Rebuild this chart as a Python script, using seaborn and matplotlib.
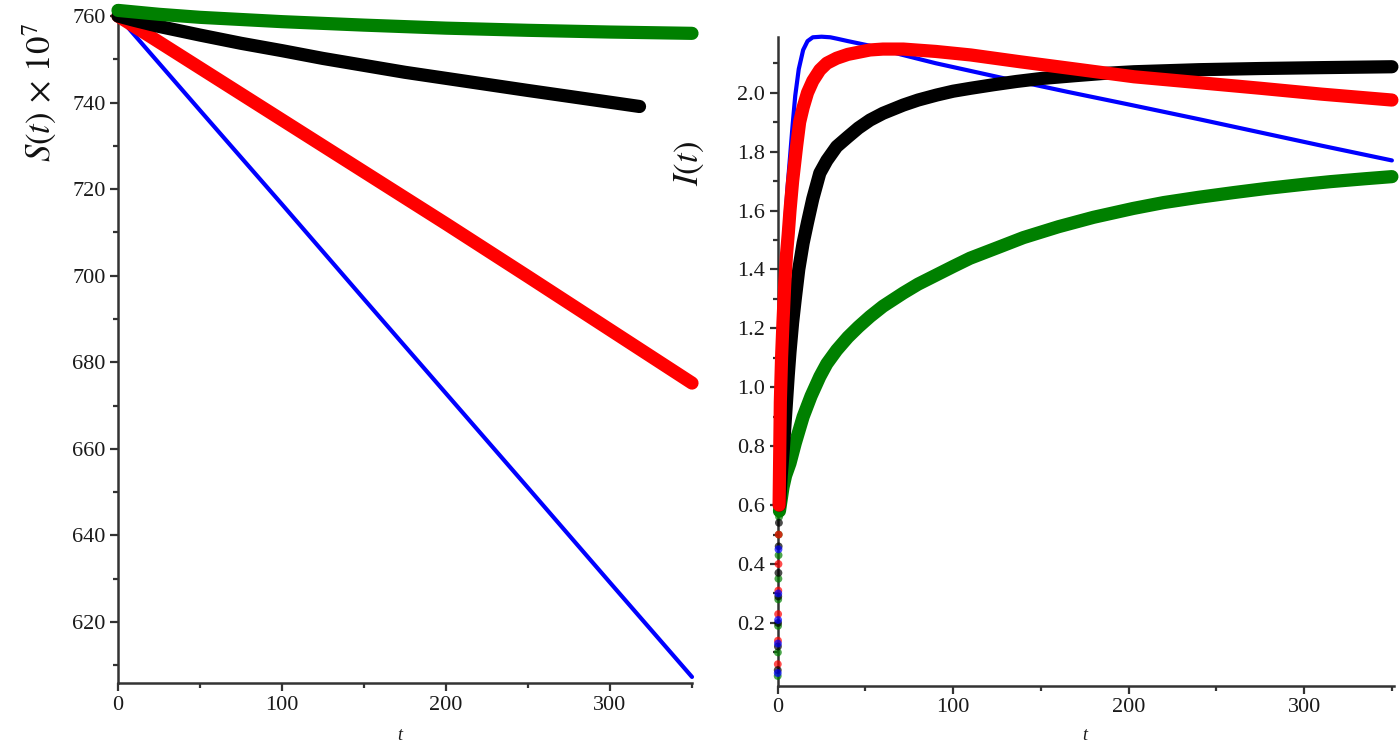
import numpy as np
import pandas as pd
import matplotlib
matplotlib.use("Agg")
import matplotlib.pyplot as plt
from matplotlib.ticker import FixedLocator
import seaborn as sns

# ---------------- data: left panel S(t) x 10^7 ----------------
t_S_blue = [0, 50, 100, 150, 200, 250, 300, 350]
S_blue = [760, 738.2, 716.5, 694.6, 672.8, 651.0, 629.1, 607.3]

t_S_red = [0, 50, 100, 150, 200, 250, 300, 350]
S_red = [760, 748.0, 736.0, 724.0, 712.0, 699.8, 687.5, 675.2]

t_S_black = [0, 10, 25, 50, 75, 100, 125, 150, 175, 200, 225, 250, 285, 318]
S_black = [760, 759.0, 757.6, 755.6, 753.7, 752.0, 750.2, 748.6, 747.0, 745.6, 744.2, 742.8, 740.9, 739.1]

t_S_green = [0, 25, 50, 100, 150, 200, 250, 300, 350]
S_green = [761.3, 760.4, 759.7, 758.7, 757.9, 757.2, 756.7, 756.3, 756.0]

# ---------------- data: right panel I(t) ----------------
t_I_blue = [0.6, 1.3, 2, 3, 4.2, 5.5, 7, 8.5, 10, 12, 14.5, 17, 20, 25, 30, 34, 40,
            52, 70, 90, 128, 165, 200, 240, 275, 310, 350]
I_blue = [0.60, 0.99, 1.22, 1.41, 1.55, 1.67, 1.78, 1.89, 1.99, 2.08, 2.145, 2.175, 2.188, 2.19, 2.188, 2.183, 2.175,
          2.16, 2.13, 2.10, 2.05, 2.003, 1.96, 1.91, 1.865, 1.82, 1.77]

t_I_red = [0.8, 1.5, 2.2, 3, 4, 5, 6, 7, 8.5, 10.8, 12.5, 14.5, 17, 20, 24, 28, 33.6, 40, 52.6, 60, 71.6,
           90, 110, 138, 170, 203, 240, 275, 310, 350]
I_red = [0.60, 0.95, 1.10, 1.22, 1.35, 1.45, 1.52, 1.60, 1.70, 1.82, 1.90, 1.95, 2.00, 2.04, 2.077, 2.10, 2.117, 2.13, 2.145, 2.148, 2.148,
         2.14, 2.128, 2.105, 2.08, 2.054, 2.034, 2.015, 1.995, 1.975]

t_I_black = [1.0, 2.0, 3.2, 4, 5, 6, 7, 8.5, 10, 12, 14.5, 17, 20, 24, 28, 33.6, 40, 46, 52.6, 60, 71.6, 80,
             90.6, 100, 110, 123, 136, 150, 170, 185, 203, 240, 275, 310, 350]
I_black = [0.60, 0.70, 0.79, 0.86, 0.95, 1.04, 1.12, 1.22, 1.30, 1.40, 1.49, 1.56, 1.64, 1.727, 1.77, 1.817, 1.85, 1.88, 1.907, 1.93, 1.958, 1.975,
           1.992, 2.005, 2.015, 2.027, 2.038, 2.048, 2.058, 2.065, 2.071, 2.078, 2.082, 2.085, 2.088]

t_I_green = [1.0, 2, 3, 4.5, 7, 10, 14.5, 19, 24, 28, 33.6, 40, 46, 52.6, 60, 71.6, 80, 90, 100, 109.6, 126.6,
             140, 160, 180, 202.6, 220, 240, 260, 278.6, 300, 315, 335, 350]
I_green = [0.58, 0.62, 0.66, 0.70, 0.742, 0.81, 0.90, 0.97, 1.036, 1.08, 1.126, 1.17, 1.205, 1.24, 1.275, 1.32, 1.35, 1.38, 1.41, 1.438, 1.477,
           1.508, 1.545, 1.577, 1.607, 1.627, 1.645, 1.661, 1.675, 1.689, 1.698, 1.708, 1.715]

# early solution points (dots near t = 0)
t_dots_green = [0.0, 0.1, 0.2, 0.3, 0.4, 0.5, 0.6, 0.8]
I_dots_green = [0.02, 0.10, 0.19, 0.28, 0.35, 0.43, 0.50, 0.56]
t_dots_red = [0.05, 0.15, 0.25, 0.35, 0.45, 0.55]
I_dots_red = [0.06, 0.14, 0.23, 0.31, 0.40, 0.50]
t_dots_black = [0.02, 0.12, 0.22, 0.32, 0.42, 0.55, 0.7]
I_dots_black = [0.04, 0.12, 0.20, 0.29, 0.37, 0.46, 0.54]
t_dots_blue = [0.03, 0.13, 0.23, 0.33, 0.45]
I_dots_blue = [0.03, 0.13, 0.21, 0.30, 0.45]

BLUE, RED, BLACK, GREEN = "#0000ff", "#ff0000", "#000000", "#008000"
AXC = "#333333"

sns.set_style("ticks")
plt.rcParams["font.family"] = ["Liberation Serif", "DejaVu Serif"]
plt.rcParams["mathtext.fontset"] = "stix"

fig = plt.figure(figsize=(14, 7.43), dpi=100)
axL = fig.add_axes([118 / 1400, 1 - 683 / 743, 574 / 1400, 670 / 743])
axR = fig.add_axes([777.7 / 1400, 1 - 685.7 / 743, 616.3 / 1400, 649 / 743])

THICK, THIN = 9.5, 3.0


def draw(ax, t, v, color, lw, z):
    df = pd.DataFrame({"t": t, "v": v})
    sns.lineplot(data=df, x="t", y="v", ax=ax, color=color, linewidth=lw,
                 sort=False, estimator=None, zorder=z)
    ln = ax.lines[-1]
    ln.set_solid_capstyle("round")
    ln.set_solid_joinstyle("round")
    ln.set_clip_on(False)


def dots(ax, t, v, color):
    df = pd.DataFrame({"t": t, "v": v})
    sns.scatterplot(data=df, x="t", y="v", ax=ax, color=color, s=32,
                    edgecolor="none", alpha=0.7, zorder=6, clip_on=False)


# left panel
draw(axL, t_S_blue, S_blue, BLUE, THIN, 3)
draw(axL, t_S_red, S_red, RED, THICK, 4)
draw(axL, t_S_black, S_black, BLACK, THICK, 4)
draw(axL, t_S_green, S_green, GREEN, THICK, 5)

# right panel
draw(axR, t_I_green, I_green, GREEN, THICK, 3)
draw(axR, t_I_black, I_black, BLACK, THICK, 4)
draw(axR, t_I_red, I_red, RED, THICK, 5)
draw(axR, t_I_blue, I_blue, BLUE, THIN, 2)
dots(axR, t_dots_green, I_dots_green, GREEN)
dots(axR, t_dots_red, I_dots_red, RED)
dots(axR, t_dots_black, I_dots_black, BLACK)
dots(axR, t_dots_blue, I_dots_blue, BLUE)

axL.set_xlim(0, 350)
axL.set_ylim(605.9, 760.7)
axR.set_xlim(0, 351.2)
axR.set_ylim(-0.013, 2.19)

axL.xaxis.set_major_locator(FixedLocator([0, 100, 200, 300]))
axL.xaxis.set_minor_locator(FixedLocator([50, 150, 250, 350]))
axL.yaxis.set_major_locator(FixedLocator([620, 640, 660, 680, 700, 720, 740, 760]))
axL.yaxis.set_minor_locator(FixedLocator([610, 630, 650, 670, 690, 710, 730, 750]))

axR.xaxis.set_major_locator(FixedLocator([0, 100, 200, 300]))
axR.xaxis.set_minor_locator(FixedLocator([50, 150, 250, 350]))
axR.yaxis.set_major_locator(FixedLocator([0.2, 0.4, 0.6, 0.8, 1.0, 1.2, 1.4, 1.6, 1.8, 2.0]))
axR.yaxis.set_minor_locator(FixedLocator([0.1, 0.3, 0.5, 0.7, 0.9, 1.1, 1.3, 1.5, 1.7, 1.9, 2.1]))
axR.set_yticklabels(["0.2", "0.4", "0.6", "0.8", "1.0", "1.2", "1.4", "1.6", "1.8", "2.0"])

for ax in (axL, axR):
    sns.despine(ax=ax)
    ax.set_xlabel("")
    ax.set_ylabel("")
    for s in ("left", "bottom"):
        ax.spines[s].set_linewidth(1.8)
        ax.spines[s].set_color(AXC)
    ax.tick_params(which="major", direction="out", length=6, width=1.6,
                   color=AXC, labelsize=16, labelcolor="#1a1a1a", pad=3)
    ax.tick_params(which="minor", direction="out", length=3.5, width=1.6, color=AXC)
    ax.set_facecolor("white")

fig.text(40 / 1400, 1 - 92 / 743, r"$S(t)\,\times\,10^{7}$", rotation=90,
         ha="center", va="center", fontsize=25, color="#111111")
fig.text(689 / 1400, 1 - 164 / 743, r"$I(t)$", rotation=90,
         ha="center", va="center", fontsize=25, color="#111111")
fig.text(400 / 1400, 1 - 736 / 743, "t", style="italic",
         ha="center", va="center", fontsize=13, color="#1a1a1a")
fig.text(1085 / 1400, 1 - 736 / 743, "t", style="italic",
         ha="center", va="center", fontsize=13, color="#1a1a1a")

fig.savefig("out.png", dpi=100, facecolor="white")
